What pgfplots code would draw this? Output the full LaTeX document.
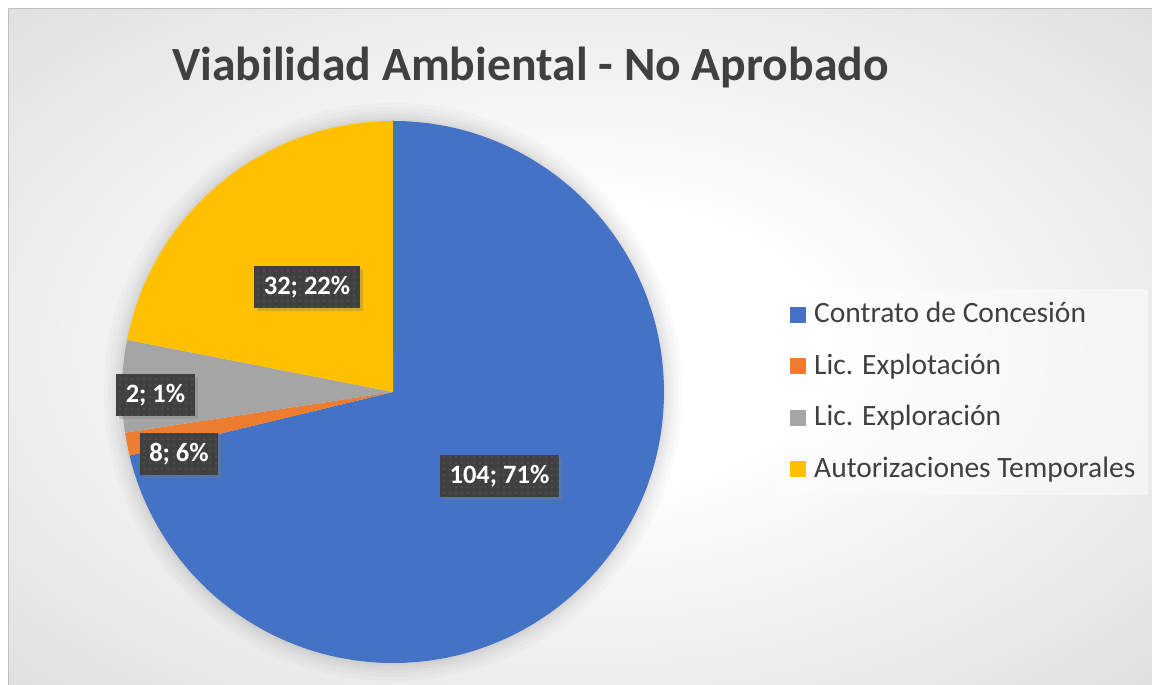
\documentclass[border=0pt]{standalone}
\usepackage{pgfplots}
\pgfplotsset{compat=1.18}
\usepackage{fontspec}
\setmainfont{Carlito}
\usetikzlibrary{shadows,patterns.meta}
\definecolor{cBlue}{HTML}{4472C4}
\definecolor{cOrange}{HTML}{ED7D31}
\definecolor{cGray}{HTML}{A5A5A5}
\definecolor{cYellow}{HTML}{FFC000}
\definecolor{txt}{HTML}{404040}
\definecolor{lblbg}{HTML}{404040}
\definecolor{lbldot}{HTML}{5A5A5A}
\definecolor{bgdark}{HTML}{B4B4B4}
\definecolor{framec}{HTML}{BFBFBF}
\pgfdeclareradialshading{bgshade}{\pgfpoint{0bp}{0bp}}{color(0bp)=(white); color(10bp)=(white); color(72bp)=(bgdark)}
\begin{document}%
\begin{tikzpicture}[
  lbl/.style={fill=lblbg, text=white, font=\fontsize{26.5pt}{26.5pt}\bfseries\selectfont,
    inner xsep=9.5pt, minimum height=42pt,
    drop shadow={opacity=0.35, shadow xshift=3pt, shadow yshift=-3pt},
    postaction={pattern={Dots[radius=0.9pt,distance=6pt]}, pattern color=lbldot}},
  legtxt/.style={anchor=base west, inner sep=0pt, text=txt, font=\fontsize{29.5pt}{29.5pt}\selectfont},
  psh/.style={fill=black, opacity=0.018}]
% slice values (clockwise from 12 o'clock)
\def\vA{104}\def\vB{2}\def\vC{8}\def\vD{32}
\pgfmathsetmacro\tot{\vA+\vB+\vC+\vD}
\pgfmathsetmacro\aA{90}
\pgfmathsetmacro\aB{90-360*(\vA/\tot)}
\pgfmathsetmacro\aC{\aB-360*(\vB/\tot)}
\pgfmathsetmacro\aD{\aC-360*(\vC/\tot)}
\pgfmathsetmacro\aE{\aD-360*(\vD/\tot)}
\begin{axis}[x=1pt, y=1pt, xmin=0, xmax=1152, ymin=-685, ymax=0,
  hide axis, clip=false, at={(0,0)}, anchor=south west]
  % background
  \fill[white] (axis cs:0,0) rectangle (axis cs:1152,-685);
  \shade[shading=bgshade] (axis cs:8,-9) rectangle (axis cs:1152,-685);
  \draw[framec, line width=1pt] (axis cs:8,-685) -- (axis cs:8,-9) -- (axis cs:1152,-9);
  % soft shadow of the pie
  \path[psh] (axis cs:393,-392) circle[radius=289pt];
  \path[psh] (axis cs:393,-392) circle[radius=285pt];
  \path[psh] (axis cs:393,-392) circle[radius=281pt];
  \path[psh] (axis cs:393,-392) circle[radius=278pt];
  \path[psh] (axis cs:393,-392) circle[radius=275pt];
  \path[psh] (axis cs:393,-392) circle[radius=273pt];
  % pie slices
  \fill[cBlue] (axis cs:393,-392) -- ++(\aA:271pt) arc[start angle=\aA, end angle=\aB, radius=271pt] -- cycle;
  \fill[cOrange] (axis cs:393,-392) -- ++(\aB:271pt) arc[start angle=\aB, end angle=\aC, radius=271pt] -- cycle;
  \fill[cGray] (axis cs:393,-392) -- ++(\aC:271pt) arc[start angle=\aC, end angle=\aD, radius=271pt] -- cycle;
  \fill[cYellow] (axis cs:393,-392) -- ++(\aD:271pt) arc[start angle=\aD, end angle=\aE, radius=271pt] -- cycle;
  % data labels
  \node[lbl] at (axis cs:499.5,-476) {104; 71\%};
  \node[lbl] at (axis cs:307,-287.5) {32; 22\%};
  \node[lbl] at (axis cs:155.5,-395.5) {2; 1\%};
  \node[lbl] at (axis cs:179,-454.5) {8; 6\%};
  % title
  \node[anchor=base, inner sep=0pt, text=txt, font=\fontsize{47.7pt}{47.7pt}\bfseries\selectfont]
    at (axis cs:530.5,-81) {Viabilidad Ambiental - No Aprobado};
  % legend
  \fill[white, opacity=0.45] (axis cs:776,-289) rectangle (axis cs:1148,-495);
  \fill[cBlue]   (axis cs:790,-307) rectangle (axis cs:806,-323);
  \fill[cOrange] (axis cs:790,-358.5) rectangle (axis cs:806,-374.5);
  \fill[cGray]   (axis cs:790,-410) rectangle (axis cs:806,-426);
  \fill[cYellow] (axis cs:790,-461.5) rectangle (axis cs:806,-477.5);
  \node[legtxt] at (axis cs:814,-323) {Contrato de Concesión};
  \node[legtxt] at (axis cs:814,-374.5) {Lic. Explotación};
  \node[legtxt] at (axis cs:814,-426) {Lic. Exploración};
  \node[legtxt] at (axis cs:814,-477.5) {Autorizaciones Temporales};
\end{axis}
\pgfresetboundingbox
\path[use as bounding box] (0,0) rectangle (1152pt,685pt);
\end{tikzpicture}%
\end{document}
